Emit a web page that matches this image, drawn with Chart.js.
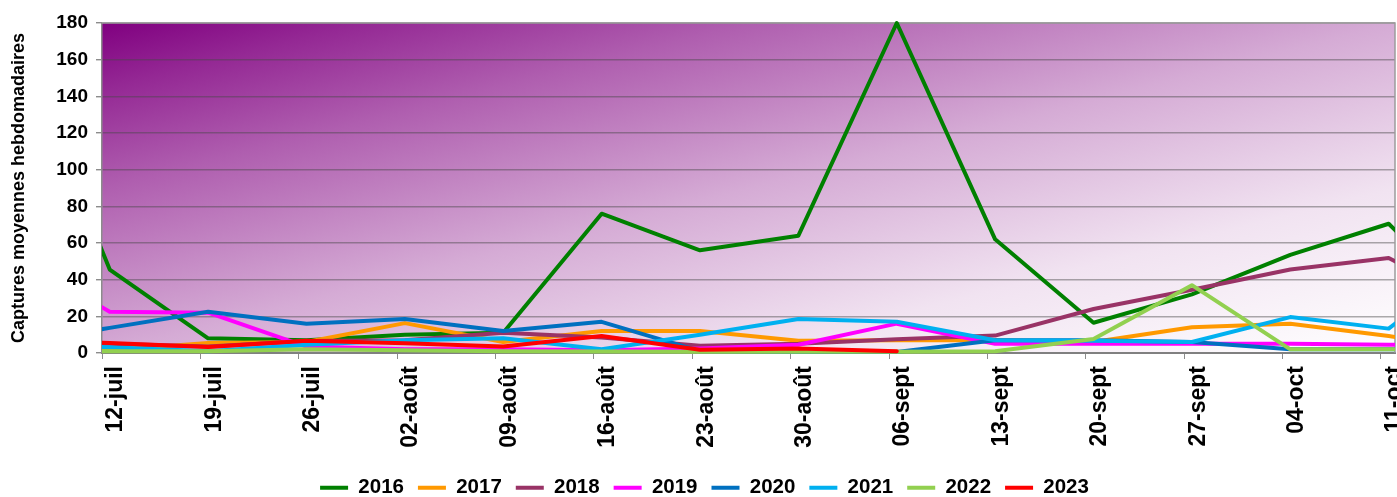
<!DOCTYPE html>
<html lang="fr">
<head>
<meta charset="utf-8">
<title>Captures moyennes hebdomadaires</title>
<script src="https://cdn.jsdelivr.net/npm/chart.js@4.4.1/dist/chart.umd.min.js"></script>
<style>
  html, body { margin: 0; padding: 0; background: #fff; }
  canvas { display: block; }
</style>
</head>
<body>
<canvas id="captures" width="1397" height="497"></canvas>
<script>
// semaines affichées sur l'axe
const weekLabels = ['12-juil', '19-juil', '26-juil', '02-août', '09-août', '16-août', '23-août',
  '30-août', '06-sept', '13-sept', '20-sept', '27-sept', '04-oct', '11-oct'];

// relevés hebdomadaires ; la première et la dernière valeur sont les semaines voisines
// (05-juil et 18-oct), hors de la plage affichée
const captures2016 = [178, 45.5, 8, 7, 10, 11, 76, 56, 64, 180, 62, 16.5, 32, 53.5, 70.5, 18];
const captures2017 = [2, 1.5, 5.5, 6, 16.3, 6, 12, 12, 6.7, 7, 7, 6, 14, 16, 9.3, 1];
const captures2018 = [5, 5, 3.5, 6.5, 7, 11, 8.5, 4, 5, 7.5, 9.5, 24, 34.5, 45.5, 51.8, 24];
const captures2019 = [54, 22.5, 22, 3.5, 2, 2, 1.5, 2.5, 4.5, 16, 5, 5, 5, 5, 4.5, 4];
const captures2020 = [5, 13.7, 22.5, 16, 18.5, 12, 17, 1, 0.5, 0.5, 7, 7, 6, 2, 2, 2];
const captures2021 = [5.6, 3.1, 1, 4.5, 7, 8, 2, 10, 18.5, 17, 7, 6.7, 6, 19.6, 13.3, 55];
const captures2022 = [1, 1, 1, 2, 1.5, 1, 0.8, 0.7, 0.7, 0.7, 1, 7.6, 37, 2, 2, 2];
const captures2023 = [8, 5.4, 3.3, 6.7, 5.3, 3.5, 9.3, 1.8, 2.5, 1, null, null, null, null, null, null];

const years = ['2016', '2017', '2018', '2019', '2020', '2021', '2022', '2023'];
const series = [captures2016, captures2017, captures2018, captures2019,
  captures2020, captures2021, captures2022, captures2023];
const yearColors = ['#008000', '#ff9900', '#993366', '#ff00ff', '#0070c0', '#00b0f0', '#92d050', '#ff0000'];

// le relevé tombe un peu après la date de la semaine (en jours)
const sampleLag = 0.55;
const lastDay = (weekLabels.length - 1) * 7;

const FONT = "'Liberation Sans', Arial, sans-serif";

const datasets = years.map((year, i) => ({
  label: year,
  data: series[i].map((v, k) => ({ x: (k - 1) * 7 + sampleLag, y: v })),
  borderColor: yearColors[i],
  backgroundColor: yearColors[i],
  borderWidth: 4,
  pointRadius: 0,
  pointHoverRadius: 0,
  tension: 0,
  borderCapStyle: 'round',
  borderJoinStyle: 'round',
  clip: { left: 0, right: 0, top: 6, bottom: 6 },
  order: years.length - i   // la dernière année passe au-dessus
}));

// fond violet -> blanc en diagonale de la zone de tracé
const plotBackground = {
  id: 'plotBackground',
  beforeDraw(chart) {
    const { ctx, chartArea: a } = chart;
    const w = a.right - a.left, h = a.bottom - a.top;
    const k = 1 / (w * w) + 1 / (h * h);
    const g = ctx.createLinearGradient(a.left, a.top, a.left + (2 / w) / k, a.top + (2 / h) / k);
    g.addColorStop(0, '#800080');
    g.addColorStop(0.1, '#942894');
    g.addColorStop(0.25, '#af5eaf');
    g.addColorStop(0.5, '#d5abd5');
    g.addColorStop(0.75, '#f1e3f1');
    g.addColorStop(1, '#ffffff');
    ctx.save();
    ctx.fillStyle = g;
    ctx.fillRect(a.left, a.top, w, h);
    ctx.restore();
  }
};

// cadre haut et droit de la zone de tracé
const plotFrame = {
  id: 'plotFrame',
  beforeDatasetsDraw(chart) {
    const { ctx, chartArea: a } = chart;
    ctx.save();
    ctx.strokeStyle = '#9c9c9c';
    ctx.lineWidth = 1.5;
    ctx.beginPath();
    ctx.moveTo(a.left, a.top);
    ctx.lineTo(a.right, a.top);
    ctx.lineTo(a.right, a.bottom);
    ctx.stroke();
    ctx.restore();
  }
};

const padLeft = 14;

new Chart(document.getElementById('captures'), {
  type: 'line',
  data: { datasets },
  options: {
    responsive: false,
    animation: false,
    devicePixelRatio: 1,
    layout: { padding: { top: 23, right: 2, bottom: -11, left: padLeft } },
    plugins: {
      legend: {
        position: 'bottom',
        labels: {
          usePointStyle: true,
          pointStyle: 'line',
          pointStyleWidth: 28,
          padding: 14,
          color: '#000',
          font: { family: FONT, size: 20.5, weight: 'bold' },
          sort: (a, b) => a.datasetIndex - b.datasetIndex
        }
      },
      tooltip: { enabled: false }
    },
    scales: {
      x: {
        type: 'linear',
        min: 0,
        max: lastDay + 1,
        afterBuildTicks: s => { s.ticks = weekLabels.map((_, i) => ({ value: i * 7 })); },
        afterFit: s => {
          s.height = 110.5;
          s.paddingLeft = 0;
          s.paddingRight = 0;
        },
        grid: { drawOnChartArea: false, drawTicks: true, tickLength: 6, color: '#8c8c8c' },
        border: { color: '#808080', width: 2 },
        ticks: {
          autoSkip: false,
          includeBounds: false,
          minRotation: 90,
          maxRotation: 90,
          padding: 7,
          labelOffset: 14,
          color: '#000',
          font: { family: FONT, size: 23, weight: 'bold' },
          callback: v => weekLabels[Math.round(v / 7)]
        }
      },
      y: {
        min: 0,
        max: 180,
        afterFit: s => { s.width = 102 - padLeft; },
        grid: { color: 'rgba(70, 70, 70, 0.45)', lineWidth: 1.4, tickLength: 6, tickColor: '#8c8c8c' },
        border: { color: '#8c8c8c', width: 1.5 },
        ticks: {
          stepSize: 20,
          padding: 8,
          color: '#000',
          font: { family: FONT, size: 19, weight: 'bold' }
        },
        title: {
          display: true,
          text: 'Captures moyennes hebdomadaires',
          color: '#000',
          padding: { top: 8 - padLeft, bottom: 0 },
          font: { family: FONT, size: 18, weight: 'bold' }
        }
      }
    }
  },
  plugins: [plotBackground, plotFrame]
});
</script>
</body>
</html>
